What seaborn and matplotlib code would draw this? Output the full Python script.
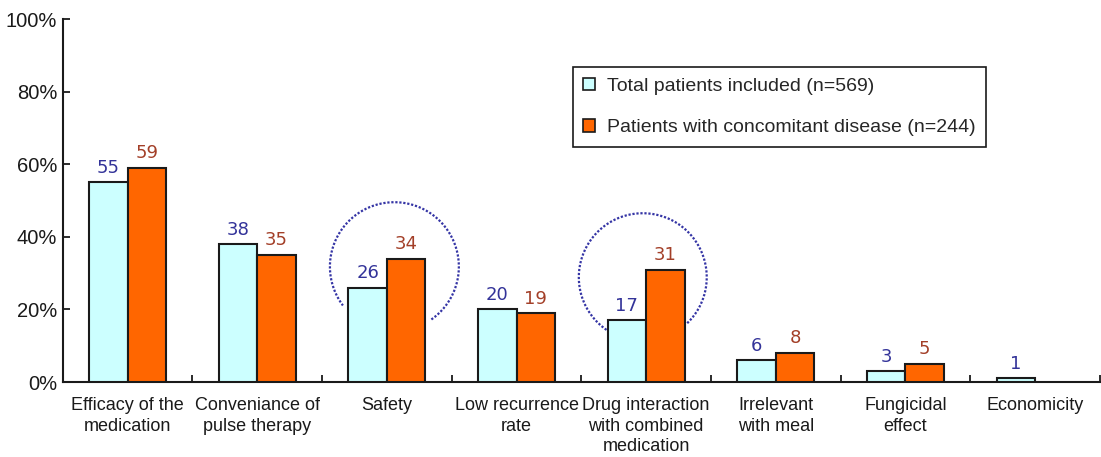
import numpy as np
import pandas as pd
import matplotlib
matplotlib.use("Agg")
import matplotlib.pyplot as plt
from matplotlib.patches import Patch
from matplotlib.ticker import FixedLocator, PercentFormatter
import seaborn as sns

# Reasons for choosing the therapy (% of patients)
categories = [
    "Efficacy of the\nmedication",
    "Conveniance of\npulse therapy",
    "Safety",
    "Low recurrence\nrate",
    "Drug interaction\nwith combined\nmedication",
    "Irrelevant\nwith meal",
    "Fungicidal\neffect",
    "Economicity",
]
total_patients = [55, 38, 26, 20, 17, 6, 3, 1]
concomitant_disease = [59, 35, 34, 19, 31, 8, 5, np.nan]
series_names = [
    "Total patients included (n=569)",
    "Patients with concomitant disease (n=244)",
]
y_ticks = [0, 20, 40, 60, 80, 100]

bar_colors = {series_names[0]: "#ccffff", series_names[1]: "#ff6600"}
label_colors = ["#333399", "#a33f28"]

df = pd.DataFrame({
    "reason": categories * 2,
    "pct": total_patients + concomitant_disease,
    "group": [series_names[0]] * len(categories) + [series_names[1]] * len(categories),
})

sns.set_style("white")
plt.rcParams["font.family"] = ["Liberation Sans", "DejaVu Sans"]

fig = plt.figure(figsize=(11.01, 4.57), dpi=100)
ax = fig.add_axes([0.057, 0.164, 0.942, 0.794])

sns.barplot(
    data=df, x="reason", y="pct", hue="group", order=categories,
    hue_order=series_names, palette=bar_colors, saturation=1,
    width=0.594, edgecolor="#1a1a1a", linewidth=1.5, errorbar=None,
    legend=False, ax=ax, zorder=3,
)

# value labels above each bar
for container, col in zip(ax.containers, label_colors):
    labels = [f"{v:.0f}" for v in container.datavalues]
    ax.bar_label(container, labels=labels, padding=4, color=col,
                 fontsize=13, family="DejaVu Sans")

# dotted highlight arcs around Safety and Drug interaction groups
px_per_x = 129.7
px_per_y = 3.63


def highlight(cx, cy, r_px, t1, t2):
    t = np.deg2rad(np.linspace(t1, t2, 300))
    ax.plot(cx + r_px / px_per_x * np.cos(t), cy + r_px / px_per_y * np.sin(t),
            color="#3535a5", lw=1.6, ls=(0, (1, 0.8)), zorder=2)


highlight(categories.index("Safety") + 0.058, 31.8, 64.5, -55, 217)
highlight(categories.index("Drug interaction\nwith combined\nmedication") - 0.026,
          28.9, 64, -46, 235.6)

ax.set_xlim(-0.5, len(categories) - 0.5)
ax.set_ylim(0, 100)
ax.yaxis.set_major_locator(FixedLocator(y_ticks))
ax.yaxis.set_major_formatter(PercentFormatter(decimals=0))
ax.set_xlabel("")
ax.set_ylabel("")

ax.xaxis.set_minor_locator(FixedLocator(np.arange(-0.5, len(categories), 1.0)))
ax.tick_params(axis="x", which="major", length=0, pad=11, labelsize=13,
               labelcolor="#1a1a1a")
ax.tick_params(axis="x", which="minor", direction="in", length=5, width=1.3,
               color="#1a1a1a", bottom=True)
ax.tick_params(axis="y", direction="in", length=5, width=1.3, color="#1a1a1a",
               pad=4, labelsize=14.5, labelcolor="#1a1a1a", left=True)
for lab in ax.get_xticklabels():
    lab.set_linespacing(1.25)

sns.despine(ax=ax)
for side in ("left", "bottom"):
    ax.spines[side].set_linewidth(1.5)
    ax.spines[side].set_color("#1a1a1a")

handles = [Patch(facecolor=bar_colors[n], edgecolor="#1a1a1a", linewidth=1.2)
           for n in series_names]
leg = ax.legend(handles, series_names, loc="upper left",
                bbox_to_anchor=(0.4917, 0.8686), fontsize=14,
                frameon=True, fancybox=False, edgecolor="#1a1a1a",
                framealpha=1, handlelength=0.62, handleheight=0.62,
                handletextpad=0.6, labelspacing=1.25, borderpad=0.55,
                borderaxespad=0)
leg.get_frame().set_linewidth(1.2)

fig.savefig("out.png", dpi=100, facecolor="white")
